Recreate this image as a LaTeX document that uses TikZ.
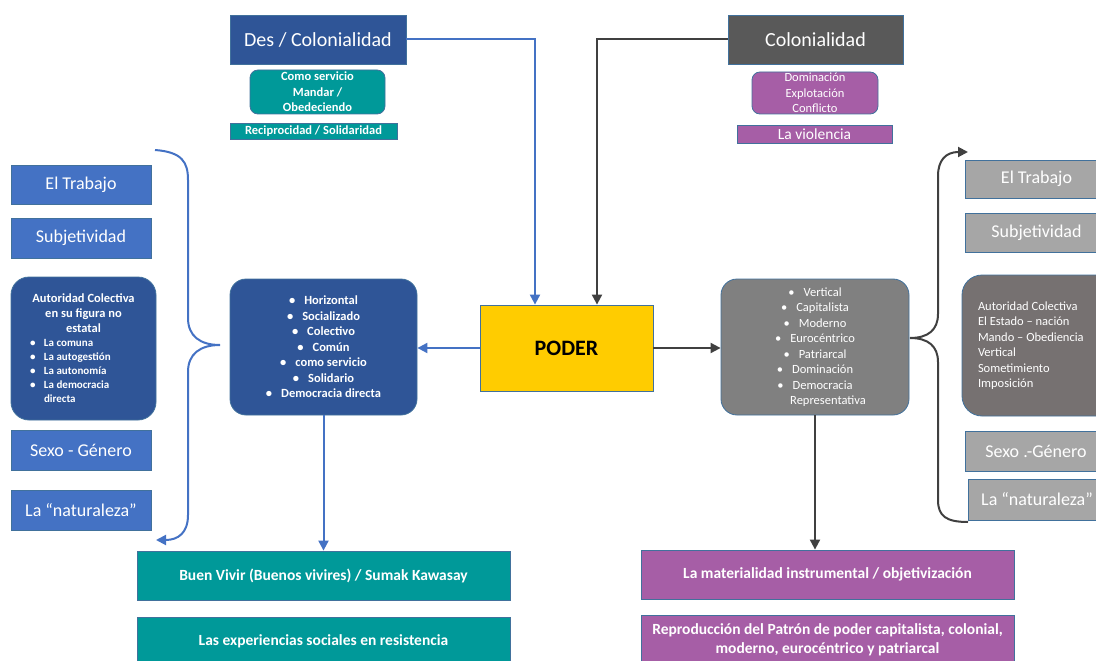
\documentclass[tikz,border=0pt]{standalone}
\usepackage{fontspec}
\setmainfont{Carlito}
\usetikzlibrary{arrows.meta}

\definecolor{dblue}{RGB}{47,85,151}
\definecolor{mblue}{RGB}{68,114,196}
\definecolor{cteal}{RGB}{0,153,153}
\definecolor{cpurple}{RGB}{166,94,166}
\definecolor{cdgray}{RGB}{89,89,89}
\definecolor{cgray}{RGB}{128,128,128}
\definecolor{clgray}{RGB}{166,166,166}
\definecolor{cagray}{RGB}{118,113,113}
\definecolor{cyellow}{RGB}{255,204,0}
\definecolor{cborder}{RGB}{65,113,156}
\definecolor{carrow}{RGB}{64,64,64}

\newcommand\fbig{\fontsize{20}{24}\selectfont}
\newcommand\fcol{\fontsize{18}{22}\selectfont}
\newcommand\flab{\fontsize{15.5}{19}\selectfont}
\newcommand\fsm{\fontsize{12.5}{15.5}\selectfont}
\newcommand\fbot{\fontsize{15.5}{19}\selectfont}
\newcommand\bul{\textbullet\hspace{9pt}}

\tikzset{
  shp/.style={draw=cborder, line width=0.8pt, text=white, inner sep=0pt},
  box/.style={shp, align=center},
  rbox/.style={box, rounded corners=16pt},
  arrB/.style={draw=mblue, line width=2pt, -{Triangle[length=10pt,width=10pt]}},
  arrG/.style={draw=carrow, line width=2pt, -{Triangle[length=10pt,width=10pt]}}
}

\begin{document}
\begin{tikzpicture}[x=1pt,y=-1pt]
\useasboundingbox (0,0) rectangle (1096,661);
\clip (0,0) rectangle (1096,661);

% top
\node[box, fill=dblue, font=\fbig, minimum width=176pt, minimum height=49pt] (dc) at (318,39.5) {Des / Colonialidad};
\node[box, fill=cteal, rounded corners=8pt, font=\fsm\bfseries, minimum width=135pt, minimum height=44pt] (serv) at (317.5,92) {Como servicio\\Mandar /\\Obedeciendo};
\node[box, fill=cteal, font=\fsm\bfseries, minimum width=167pt, minimum height=16pt] (recip) at (313.5,131) {Reciprocidad / Solidaridad};
\node[box, fill=cdgray, font=\fbig, minimum width=175pt, minimum height=49pt] (col) at (815.5,39.5) {Colonialidad};
\node[box, fill=cpurple, rounded corners=8pt, font=\fsm, minimum width=126pt, minimum height=42pt] (dom) at (815,93) {Dominación\\Explotación\\Conflicto};
\node[box, fill=cpurple, font=\flab, minimum width=155pt, minimum height=18pt] (viol) at (814.5,134) {La violencia};

% centre
\node[box, fill=cyellow, text=black, font=\fontsize{22}{26}\selectfont\bfseries, minimum width=173pt, minimum height=86pt] (poder) at (566.5,348) {PODER};
\node[rbox, fill=dblue, font=\fsm\bfseries, minimum width=187pt, minimum height=136pt] (horiz) at (323.5,347)
  {\bul Horizontal\\\bul Socializado\\\bul Colectivo\\\bul Común\\\bul como servicio\\\bul Solidario\\\bul Democracia directa};
\node[rbox, fill=cgray, font=\fsm, minimum width=188pt, minimum height=136pt] (vert) at (815,347)
  {\bul Vertical\\\bul Capitalista\\\bul Moderno\\\bul Eurocéntrico\\\bul Patriarcal\\\bul Dominación\\\bul Democracia\\\hspace*{26pt}Representativa};

% left column
\node[box, fill=mblue, font=\fcol, minimum width=140pt, minimum height=39pt] (trabL) at (81,184.5) {El Trabajo};
\node[box, fill=mblue, font=\fcol, minimum width=140pt, minimum height=40pt] (subjL) at (81,238) {Subjetividad};
\node[shp, fill=dblue, rounded corners=18pt, minimum width=145pt, minimum height=143pt] (autL) at (83.5,348.5)
  {\parbox{134pt}{\fontsize{12.5}{15}\selectfont\bfseries\centering Autoridad Colectiva\\en su figura no\\estatal\par
   \fontsize{11}{14}\selectfont\raggedright
   \hspace*{13.5pt}\makebox[14pt][l]{\textbullet}La comuna\\
   \hspace*{13.5pt}\makebox[14pt][l]{\textbullet}La autogestión\\
   \hspace*{13.5pt}\makebox[14pt][l]{\textbullet}La autonomía\\
   \hspace*{13.5pt}\makebox[14pt][l]{\textbullet}La democracia\\
   \hspace*{27.5pt}directa}};
\node[box, fill=mblue, font=\fcol, minimum width=140pt, minimum height=40pt] (sexoL) at (81,450) {Sexo - Género};
\node[box, fill=mblue, font=\fcol, minimum width=140pt, minimum height=40pt] (natL) at (81,510) {La “naturaleza”};

% right column
\node[box, fill=clgray, font=\fcol, minimum width=143pt, minimum height=38pt] (trabR) at (1036.5,179) {El Trabajo};
\node[box, fill=clgray, font=\fcol, minimum width=143pt, minimum height=39pt] (subjR) at (1036.5,232.5) {Subjetividad};
\node[shp, fill=cagray, rounded corners=20pt, minimum width=158pt, minimum height=141pt] (autR) at (1041,345.5)
  {\parbox{126pt}{\fsm\raggedright Autoridad Colectiva\\El Estado – nación\\Mando – Obediencia\\Vertical\\Sometimiento\\Imposición}};
\node[box, fill=clgray, font=\fcol, minimum width=142pt, minimum height=40pt] (sexoR) at (1036,451) {Sexo .-Género};
\node[box, fill=clgray, font=\fcol, minimum width=138pt, minimum height=41pt] (natR) at (1037,499.5) {La “naturaleza”};

% bottom
\node[box, fill=cteal, font=\fbot\bfseries, minimum width=373pt, minimum height=49pt] (buen) at (323.5,575.5) {Buen Vivir (Buenos vivires) / Sumak Kawasay};
\node[box, fill=cteal, font=\fbot\bfseries, minimum width=373pt, minimum height=48pt] (exper) at (323.5,641) {Las experiencias sociales en resistencia};
\node[box, fill=cpurple, font=\fbot\bfseries, minimum width=373pt, minimum height=49pt] (mater) at (827.5,574.5) {La materialidad instrumental / objetivización};
\node[box, fill=cpurple, font=\fbot\bfseries, minimum width=373pt, minimum height=50pt] (repro) at (827.5,640) {Reproducción del Patrón de poder capitalista, colonial,\\moderno, eurocéntrico y patriarcal};

% arrows
\draw[arrB] (dc.east) -| ([xshift=-31.5pt]poder.north);
\draw[arrG] (col.west) -| ([xshift=30.5pt]poder.north);
\draw[arrB] (poder.west) -- (poder.west -| horiz.east);
\draw[arrG] (poder.east) -- (poder.east -| vert.west);
\draw[arrB] (horiz.south) -- (horiz.south |- buen.north);
\draw[arrG] (vert.south) -- (vert.south |- mater.north);

% braces
\draw[arrB] (155,150) .. controls (182,152) and (188,162) .. (188,180) -- (188,318)
  .. controls (188,336) and (200,345) .. (220,345)
  .. controls (200,345) and (188,354) .. (188,372) -- (188,515)
  .. controls (188,533) and (178,540) .. (156,540);
\draw[arrG] (968,522) .. controls (946,522) and (938,516) .. (938,500) -- (938,362)
  .. controls (938,346) and (928,338) .. (910,338)
  .. controls (928,338) and (938,330) .. (938,314) -- (938,176)
  .. controls (938,160) and (946,152) .. (968,152);
\end{tikzpicture}
\end{document}
